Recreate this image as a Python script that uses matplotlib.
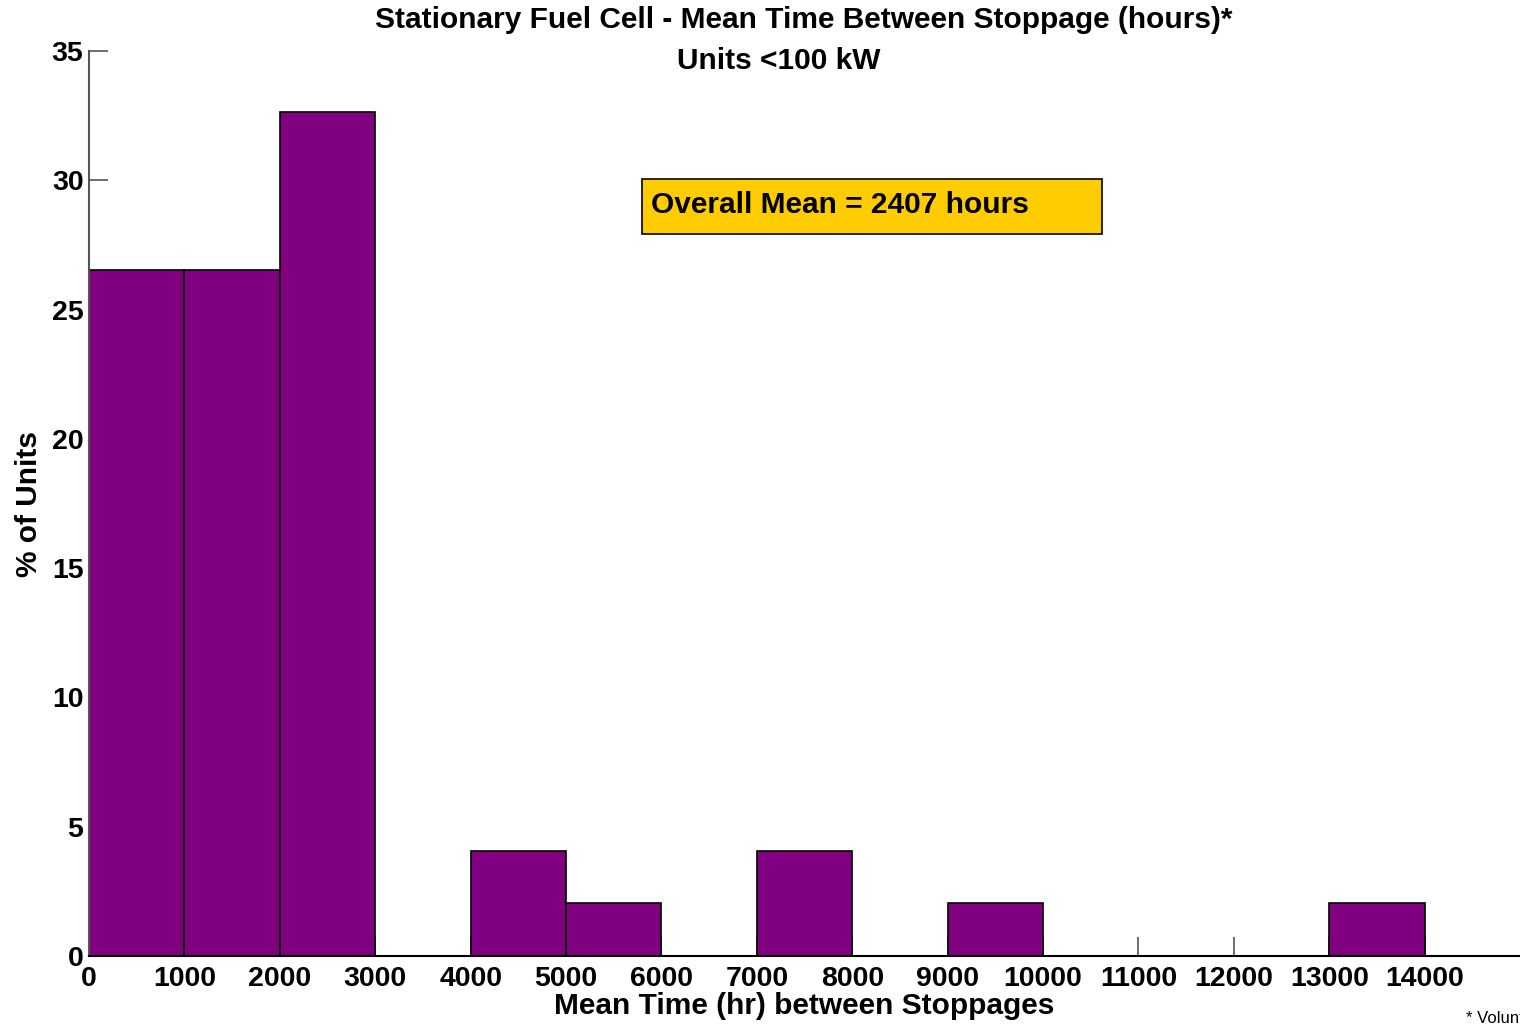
import numpy as np
import matplotlib
matplotlib.use("Agg")
import matplotlib.pyplot as plt

plt.rcParams['font.family'] = ['Liberation Sans', 'DejaVu Sans']
plt.rcParams['font.weight'] = 'bold'

# histogram data (% of units per 1000 hr bin)
bin_left = [0, 1000, 2000, 3000, 4000, 5000, 6000, 7000, 8000, 9000,
            10000, 11000, 12000, 13000]
pct_units = [26.53, 26.53, 32.65, 0, 4.08, 2.04, 0, 4.08, 0, 2.04,
             0, 0, 0, 2.04]
bin_width = 1000
x_ticks = [0, 1000, 2000, 3000, 4000, 5000, 6000, 7000, 8000, 9000,
           10000, 11000, 12000, 13000, 14000]
y_ticks = [0, 5, 10, 15, 20, 25, 30, 35]
overall_mean = 2407

fig = plt.figure(figsize=(15.2, 10.25), dpi=100)
ax = fig.add_axes([0.0586, 0.0673, 0.9414, 0.8829])

ax.bar(bin_left, pct_units, width=bin_width, align='edge',
       color='#800080', edgecolor='black', linewidth=1.2, zorder=2)

ax.set_xlim(0, 15000)
ax.set_ylim(0, 35)
ax.set_xticks(x_ticks)
ax.set_yticks(y_ticks)
ax.tick_params(axis='both', direction='in', length=14, width=1.2,
               color='#555555', labelsize=20.5)
ax.tick_params(axis='x', pad=7)
ax.tick_params(axis='y', pad=4)
for lbl in ax.get_xticklabels() + ax.get_yticklabels():
    lbl.set_fontweight('bold')

for s in ['top', 'right']:
    ax.spines[s].set_visible(False)
ax.spines['left'].set_color('#555555')
ax.spines['left'].set_linewidth(1.5)
ax.spines['bottom'].set_color('black')
ax.spines['bottom'].set_linewidth(1.5)
ax.set_axisbelow(True)

ax.set_xlabel('Mean Time (hr) between Stoppages', fontsize=21.5,
              fontweight='bold', labelpad=0)
ax.set_ylabel('% of Units', fontsize=21.5, fontweight='bold', labelpad=6)

fig.text(0.529, 0.9805, 'Stationary Fuel Cell - Mean Time Between Stoppage (hours)*',
         ha='center', va='center', fontsize=21.5, fontweight='bold')
fig.text(0.5125, 0.9405, 'Units <100 kW', ha='center', va='center',
         fontsize=21.5, fontweight='bold')

# annotation box
ax.add_patch(plt.Rectangle((5800, 27.92), 4820, 2.13, facecolor='#FFCC00',
                           edgecolor='black', linewidth=1.2, zorder=3))
ax.text(5890, 29.05, f'Overall Mean = {overall_mean} hours', fontsize=21.5,
        fontweight='bold', va='center', ha='left', zorder=4)

fig.text(0.9645, 0.0068, '* Voluntary reporting', fontsize=12,
         fontweight='normal', ha='left', va='center')

fig.savefig('out.png', dpi=100)
